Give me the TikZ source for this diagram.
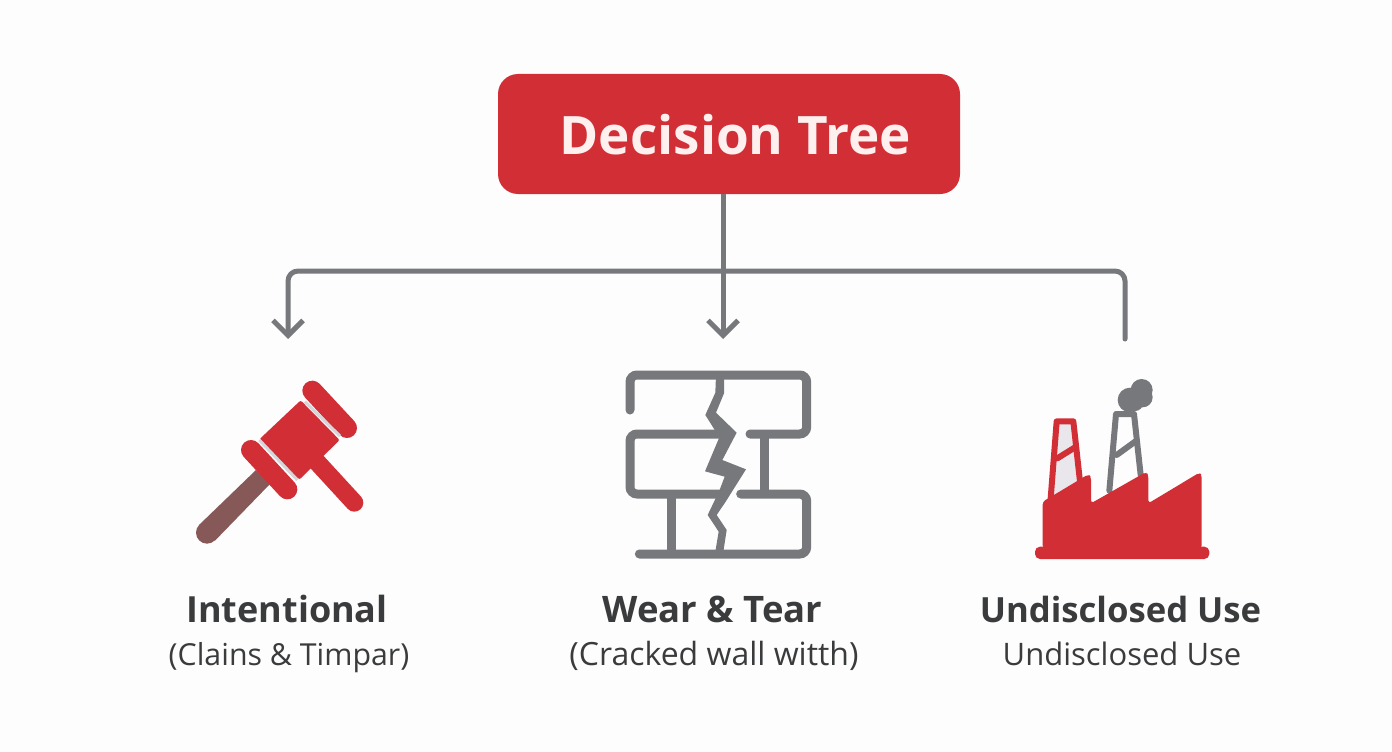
\documentclass[tikz,border=0pt]{standalone}
\usepackage{fontspec}
\setmainfont{Open Sans}
\usetikzlibrary{arrows.meta}
\definecolor{bgc}{HTML}{FDFDFD}
\definecolor{redc}{HTML}{D22E36}
\definecolor{grayc}{HTML}{77787B}
\definecolor{brownc}{HTML}{875858}
\definecolor{paleg}{HTML}{D6D6DA}
\definecolor{palef}{HTML}{E9E7EB}
\definecolor{textc}{HTML}{3A3B3D}
\tikzset{
  rootbox/.style={fill=redc,rounded corners=20pt,minimum width=462pt,minimum height=120pt,inner sep=0pt},
  title/.style={inner sep=0pt,anchor=base,text=white!94!red,font=\fontsize{53}{60}\selectfont\bfseries},
  headlabel/.style={inner sep=0pt,anchor=base,text=textc,font=\fontsize{#1}{40}\selectfont\bfseries},
  sublabel/.style={inner sep=0pt,anchor=base,text=textc,font=\fontsize{#1}{36}\selectfont},
  conn/.style={draw=grayc,line width=5pt,rounded corners=10pt},
  arrowed/.style={-{Straight Barb[length=15pt,width=30pt,line width=5pt]}},
  wall/.style={draw=grayc,line width=9pt,line cap=round,rounded corners=7pt},
  chim/.style={line width=6pt,line cap=round,line join=round},
}
\begin{document}
\begin{tikzpicture}[x=1pt,y=-1pt]
\useasboundingbox (0,0) rectangle (1392,752);
\fill[bgc] (0,0) rectangle (1392,752);
% root
\node[rootbox] (root) at (729,134) {};
\node[title] (roottext) at (735.5,154) {Decision Tree};
% connectors
\coordinate (trunk) at (723,271);
\coordinate (endl) at (288,339);
\coordinate (endm) at (723,339);
\coordinate (endr) at (1125,339);
\draw[conn] (root.south -| trunk) -- (trunk);
\draw[conn,arrowed] (trunk) -| (endl);
\draw[conn,arrowed] (trunk) -- (endm);
\draw[conn,line cap=round] (trunk) -| (endr);
% gavel
\begin{scope}[shift={(170,360)},scale=1/3]
  \fill[brownc] (258,330) -- (300,372) -- (135,542) -- (87,495) -- cycle;
  \fill[brownc] (111,518) circle[radius=33];
  \fill[redc,rounded corners=2pt] (392,121) -- (509,240) -- (388,359) -- (268,238) -- cycle;
  \draw[redc,line width=18pt,line cap=round] (440,305) -- (553,428);
  \draw[redc,line width=20pt,line cap=round] (427,92) -- (531,204);
  \draw[redc,line width=20pt,line cap=round] (243,270) -- (352,388);
  \draw[paleg,line width=3pt] (405,125) -- (510,228);
  \draw[paleg,line width=3pt] (268,240) -- (382,360);
\end{scope}
% wall
\begin{scope}[shift={(610,360)},scale=1/3]
  \draw[wall] (60,150) -- (60,45) -- (590,45) -- (590,222) -- (420,222);
  \draw[wall] (330,222) -- (60,222) -- (60,402) -- (335,402);
  \draw[wall,rounded corners=0pt,line cap=butt] (462,222) -- (462,402);
  \draw[wall] (392,402) -- (590,402) -- (590,582) -- (88,582);
  \draw[wall,rounded corners=0pt,line cap=butt] (185,402) -- (185,582);
  \fill[grayc,line join=round] (342,45) -- (342,100) -- (318,158) -- (380,218) -- (337,300) -- (408,328) -- (347,425) -- (320,465) -- (350,510) -- (340,575) -- (316,575) -- (326,515) -- (293,465) -- (328,392) -- (344,350) -- (285,334) -- (328,232) -- (286,165) -- (316,98) -- (318,45) -- cycle;
\end{scope}
% factory
\begin{scope}[shift={(1020,360)},scale=1/3]
  \fill[palef] (108,180) -- (163,180) -- (185,360) -- (88,410) -- cycle;
  \draw[redc,chim] (92,415) -- (110,184) -- (160,184) -- (180,365);
  \draw[redc,chim] (112,295) -- (165,262);
  \fill[grayc] (330,120) circle[radius=37];
  \fill[grayc] (365,90) circle[radius=33];
  \fill[grayc] (368,112) circle[radius=30];
  \fill[grayc] (345,128) circle[radius=25];
  \draw[grayc,chim] (268,392) -- (288,162) -- (342,162) -- (362,345);
  \draw[grayc,chim] (290,285) -- (345,245);
  \fill[redc,rounded corners=3pt] (68,565) -- (68,425) -- (205,343) -- (213,350) -- (213,430) -- (378,336) -- (385,345) -- (385,430) -- (538,338) -- (545,345) -- (545,565) -- cycle;
  \fill[redc,rounded corners=5pt] (45,560) rectangle (568,597);
\end{scope}
% labels
\node[headlabel=36] (l1) at (287,622) {Intentional};
\node[sublabel=30.3] (s1) at (289,665) {(Clains \& Timpar)};
\node[headlabel=36.5] (l2) at (712.5,622) {Wear \& Tear};
\node[sublabel=32] (s2) at (714,665) {(Cracked wall witth)};
\node[headlabel=34.7] (l3) at (1120.5,622) {Undisclosed Use};
\node[sublabel=31] (s3) at (1122,665) {Undisclosed Use};
\end{tikzpicture}
\end{document}
